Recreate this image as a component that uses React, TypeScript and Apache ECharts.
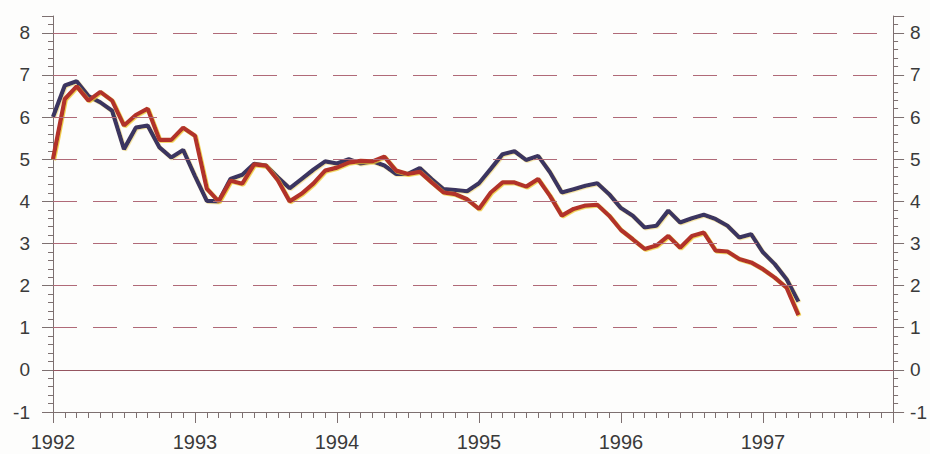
import React, { useEffect, useRef } from "react";
import * as echarts from "echarts";

const startYear = 1992;
const monthCount = 71; // months from Jan 1992 shown on the axis span
const gridValues = [1, 2, 3, 4, 5, 6, 7, 8];
const zeroValue = [0];

const seriesDark = [
  6.0, 6.75, 6.85, 6.5, 6.35, 6.15, 5.24, 5.75, 5.8, 5.28, 5.04, 5.22,
  4.6, 4.01, 4.0, 4.53, 4.63, 4.89, 4.85, 4.57, 4.31, 4.53, 4.75, 4.95,
  4.9, 5.0, 4.9, 4.95, 4.85, 4.65, 4.65, 4.79, 4.53, 4.29, 4.27, 4.24,
  4.43, 4.77, 5.12, 5.19, 4.98, 5.08, 4.69, 4.21, 4.29, 4.37, 4.43, 4.17,
  3.84, 3.66, 3.38, 3.42, 3.78, 3.5, 3.6, 3.68, 3.58, 3.42, 3.14, 3.22,
  2.79, 2.51, 2.15, 1.62,
];

const seriesRed = [
  5.0, 6.43, 6.73, 6.39, 6.6, 6.39, 5.8, 6.05, 6.2, 5.46, 5.46, 5.75,
  5.56, 4.3, 4.0, 4.49, 4.42, 4.88, 4.85, 4.5, 4.0, 4.18, 4.42, 4.73,
  4.8, 4.92, 4.96, 4.95, 5.06, 4.73, 4.65, 4.7, 4.45, 4.21, 4.17, 4.05,
  3.82, 4.21, 4.45, 4.45, 4.35, 4.53, 4.13, 3.66, 3.82, 3.9, 3.92, 3.66,
  3.32, 3.1, 2.87, 2.95, 3.18, 2.9, 3.18, 3.26, 2.83, 2.81, 2.63, 2.55,
  2.39, 2.19, 1.95, 1.3,
];

const FONT = "'Liberation Sans', Arial, sans-serif";
const AXIS_COLOR = "#7d7070";
const GRID_COLOR = "#b06a78";
const LABEL_COLOR = "#3a3a3a";

function yAxisCfg(position: "left" | "right") {
  return {
    type: "value",
    position,
    min: -1,
    max: 8.4,
    interval: 1,
    axisLine: { show: true, lineStyle: { color: AXIS_COLOR, width: 1 } },
    axisTick: { show: true, length: 11, lineStyle: { color: AXIS_COLOR } },
    minorTick: { show: true, splitNumber: 5, length: 5, lineStyle: { color: AXIS_COLOR } },
    splitLine: { show: false },
    minorSplitLine: { show: false },
    axisLabel: {
      color: LABEL_COLOR,
      fontSize: 19,
      fontFamily: FONT,
      margin: position === "left" ? 23 : 17,
      showMaxLabel: false,
      formatter: (v: number) => (Number.isInteger(v) ? String(v) : ""),
    },
  };
}

export default function App() {
  const ref = useRef<HTMLDivElement>(null);
  useEffect(() => {
    if (!ref.current) return;
    const chart = echarts.init(ref.current, null, { renderer: "svg" });
    const dark = seriesDark.map((v, i) => [i, v]);
    const red = seriesRed.map((v, i) => [i, v]);
    chart.setOption({
      animation: false,
      backgroundColor: "#fdfdfc",
      grid: { left: 53, right: 36, top: 16, bottom: 42, containLabel: false },
      xAxis: {
        type: "value",
        min: 0,
        max: monthCount,
        interval: 12,
        axisLine: { show: true, onZero: false, lineStyle: { color: AXIS_COLOR, width: 1 } },
        axisTick: { show: true, length: 11, lineStyle: { color: AXIS_COLOR } },
        minorTick: { show: true, splitNumber: 12, length: 6, lineStyle: { color: AXIS_COLOR } },
        splitLine: { show: false },
        minorSplitLine: { show: false },
        axisLabel: {
          color: LABEL_COLOR,
          fontSize: 20,
          fontFamily: FONT,
          margin: 20,
          showMaxLabel: false,
          formatter: (v: number) => (v % 12 === 0 ? String(startYear + v / 12) : ""),
        },
      },
      yAxis: [yAxisCfg("left"), yAxisCfg("right")],
      series: [
        {
          type: "line",
          name: "grid",
          data: [],
          yAxisIndex: 0,
          silent: true,
          markLine: {
            silent: true,
            symbol: "none",
            label: { show: false },
            lineStyle: { color: GRID_COLOR, width: 1.2, type: [24, 16], opacity: 1 },
            data: gridValues.map((v) => ({ yAxis: v })),
          },
        },
        {
          type: "line",
          name: "zero",
          data: [],
          yAxisIndex: 0,
          silent: true,
          markLine: {
            silent: true,
            symbol: "none",
            label: { show: false },
            lineStyle: { color: "#955560", width: 1.2, type: "solid", opacity: 1 },
            data: zeroValue.map((v) => ({ yAxis: v })),
          },
        },
        {
          type: "line",
          name: "Serie 1",
          data: dark,
          yAxisIndex: 0,
          showSymbol: false,
          symbol: "none",
          lineStyle: {
            color: "#3b3461",
            width: 4.2,
            shadowColor: "rgba(235,205,90,0.6)",
            shadowOffsetX: 0.8,
            shadowOffsetY: 0.8,
            shadowBlur: 0,
          },
          z: 3,
        },
        {
          type: "line",
          name: "Serie 2",
          data: red,
          yAxisIndex: 0,
          showSymbol: false,
          symbol: "none",
          lineStyle: {
            color: "#b2322a",
            width: 4.2,
            shadowColor: "rgba(240,200,50,0.85)",
            shadowOffsetX: 1,
            shadowOffsetY: 0.8,
            shadowBlur: 0,
          },
          z: 4,
        },
      ],
    });
    return () => chart.dispose();
  }, []);
  return (
    <div
      ref={ref}
      style={{ position: "fixed", left: 0, top: 0, width: 930, height: 454 }}
    />
  );
}
